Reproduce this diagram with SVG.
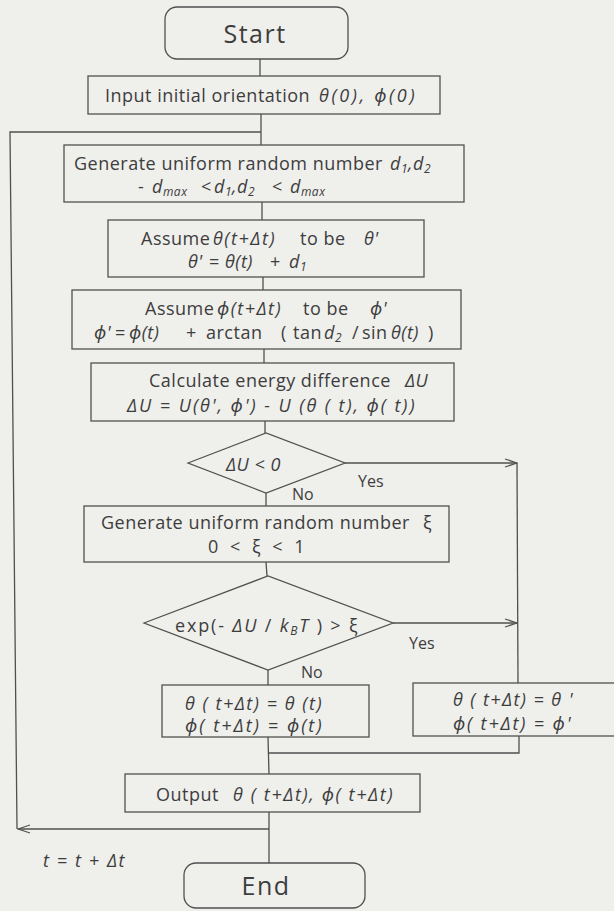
<svg xmlns="http://www.w3.org/2000/svg" width="614" height="911" viewBox="0 0 614 911">
<style>
.bx{fill:none;stroke:#505050;stroke-width:1.3}
.ln{fill:none;stroke:#505050;stroke-width:1.3}
text{font-family:"Open Sans","Noto Sans","DejaVu Sans",sans-serif;font-size:18px;fill:#3d3d3d;letter-spacing:0.5px}
.i{font-style:italic}
.s{font-size:12px}
.big{font-size:25px;letter-spacing:1.5px}
.lab{font-size:16px;letter-spacing:0}
</style>
<defs>
<marker id="arr" markerUnits="userSpaceOnUse" markerWidth="14" markerHeight="12" refX="13" refY="5" orient="auto">
<path d="M1,1 L13,5 L1,9" fill="none" stroke="#505050" stroke-width="1.3"/>
</marker>
</defs>
<rect width="614" height="911" fill="#efefec"/>

<g id="connectors">
<line class="ln" x1="260" y1="59" x2="260" y2="76"/>
<line class="ln" x1="261" y1="114" x2="261" y2="145"/>
<polyline class="ln" points="261,132 10,132 17,829"/>
<line class="ln" x1="262" y1="202" x2="262" y2="220"/>
<line class="ln" x1="263" y1="277" x2="263" y2="290"/>
<line class="ln" x1="264" y1="349" x2="264" y2="363"/>
<line class="ln" x1="265" y1="421" x2="265" y2="433"/>
<line class="ln" x1="345" y1="463" x2="517" y2="463" marker-end="url(#arr)"/>
<line class="ln" x1="517" y1="463" x2="518" y2="683"/>
<line class="ln" x1="266" y1="493" x2="266" y2="506"/>
<line class="ln" x1="266" y1="562" x2="267" y2="576"/>
<line class="ln" x1="393" y1="623" x2="517" y2="623" marker-end="url(#arr)"/>
<line class="ln" x1="268" y1="670" x2="268" y2="685"/>
<line class="ln" x1="268" y1="737" x2="269" y2="774"/>
<polyline class="ln" points="268,753 519,753 519,736"/>
<line class="ln" x1="269" y1="812" x2="269" y2="863"/>
<line class="ln" x1="269" y1="829" x2="18" y2="829" marker-end="url(#arr)"/>
<text class="lab" x="358" y="487">Yes</text>
<text class="lab" x="292" y="500">No</text>
<text class="lab" x="409" y="649">Yes</text>
<text class="lab" x="301" y="678">No</text>
<text class="i" x="43" y="867" textLength="82" lengthAdjust="spacing">t = t + Δt</text>
</g>

<g id="start">
<rect class="bx" x="165" y="7" width="183" height="52" rx="12"/>
<text class="big" x="255" y="43" text-anchor="middle">Start</text>
</g>

<g id="input">
<rect class="bx" x="88" y="76" width="352" height="38"/>
<text x="105" y="102">Input initial orientation</text>
<text class="i" x="319" y="102" textLength="96" lengthAdjust="spacing">θ(0), ϕ(0)</text>
</g>

<g id="gen-d">
<rect class="bx" x="64" y="145" width="400" height="57"/>
<text x="74" y="170">Generate uniform random number</text>
<text class="i" x="390" y="170">d<tspan class="s" dy="3">1</tspan><tspan dy="-3">,d</tspan><tspan class="s" dy="3">2</tspan></text>
<text y="193"><tspan x="138">-</tspan><tspan class="i" x="152">d<tspan class="s" dy="3">max</tspan></tspan><tspan x="201" dy="-3">&lt;</tspan><tspan class="i" x="214">d<tspan class="s" dy="3">1</tspan></tspan><tspan class="i" x="232" dy="-3">,d<tspan class="s" dy="3">2</tspan></tspan><tspan x="272" dy="-3">&lt;</tspan><tspan class="i" x="290">d<tspan class="s" dy="3">max</tspan></tspan></text>
</g>

<g id="assume-theta">
<rect class="bx" x="108" y="220" width="316" height="57"/>
<text x="141" y="245">Assume</text>
<text class="i" x="213" y="245" textLength="62" lengthAdjust="spacing">θ(t+Δt)</text>
<text x="300" y="245">to be</text>
<text class="i" x="364" y="245">θ'</text>
<text y="268"><tspan class="i" x="188">θ'</tspan><tspan x="209">=</tspan><tspan class="i" x="225">θ(t)</tspan><tspan x="270">+</tspan><tspan class="i" x="289">d<tspan class="s" dy="3">1</tspan></tspan></text>
</g>

<g id="assume-phi">
<rect class="bx" x="72" y="290" width="389" height="59"/>
<text x="145" y="315">Assume</text>
<text class="i" x="217" y="315" textLength="64" lengthAdjust="spacing">ϕ(t+Δt)</text>
<text x="303" y="315">to be</text>
<text class="i" x="370" y="315">ϕ'</text>
<text y="339"><tspan class="i" x="94">ϕ'</tspan><tspan x="115">=</tspan><tspan class="i" x="129">ϕ(t)</tspan><tspan x="186">+</tspan><tspan x="206">arctan</tspan><tspan x="281">(</tspan><tspan x="293">tan</tspan><tspan class="i" x="324">d<tspan class="s" dy="3">2</tspan></tspan><tspan x="352" dy="-3">/</tspan><tspan x="362">sin</tspan><tspan class="i" x="391">θ(t)</tspan><tspan x="428">)</tspan></text>
</g>

<g id="calc">
<rect class="bx" x="91" y="363" width="363" height="58"/>
<text x="149" y="387">Calculate energy difference</text>
<text class="i" x="405" y="387">ΔU</text>
<text class="i" x="127" y="412" textLength="288" lengthAdjust="spacing">ΔU = U(θ', ϕ') - U (θ ( t), ϕ( t))</text>
</g>

<g id="decision-du">
<polygon class="bx" points="188,463 266,433 345,463 266,493"/>
<text class="i" x="226" y="471">ΔU &lt; 0</text>
</g>

<g id="gen-xi">
<rect class="bx" x="84" y="506" width="365" height="56"/>
<text x="101" y="529">Generate uniform random number</text>
<text x="423" y="529">ξ</text>
<text x="208" y="553" textLength="97" lengthAdjust="spacing">0 &lt; ξ &lt; 1</text>
</g>

<g id="decision-exp">
<polygon class="bx" points="144,623 268,576 393,623 268,670"/>
<text x="175" y="632" textLength="183" lengthAdjust="spacing">exp(- <tspan class="i">ΔU</tspan> / <tspan class="i">k<tspan class="s" dy="3">B</tspan><tspan dy="-3">T</tspan></tspan> ) &gt; ξ</text>
</g>

<g id="reject">
<rect class="bx" x="162" y="685" width="207" height="52"/>
<text class="i" x="185" y="710" textLength="137" lengthAdjust="spacing">θ ( t+Δt) = θ (t)</text>
<text class="i" x="185" y="732" textLength="137" lengthAdjust="spacing">ϕ( t+Δt) = ϕ(t)</text>
</g>

<g id="accept">
<rect class="bx" x="413" y="683" width="205" height="53"/>
<text class="i" x="453" y="706" textLength="120" lengthAdjust="spacing">θ ( t+Δt) = θ '</text>
<text class="i" x="453" y="730" textLength="118" lengthAdjust="spacing">ϕ( t+Δt) = ϕ'</text>
</g>

<g id="output">
<rect class="bx" x="125" y="774" width="295" height="38"/>
<text x="156" y="801">Output</text>
<text class="i" x="233" y="801" textLength="160" lengthAdjust="spacing">θ ( t+Δt), ϕ( t+Δt)</text>
</g>

<g id="end">
<rect class="bx" x="184" y="863" width="181" height="45" rx="12"/>
<text class="big" x="266" y="895" text-anchor="middle">End</text>
</g>
</svg>
